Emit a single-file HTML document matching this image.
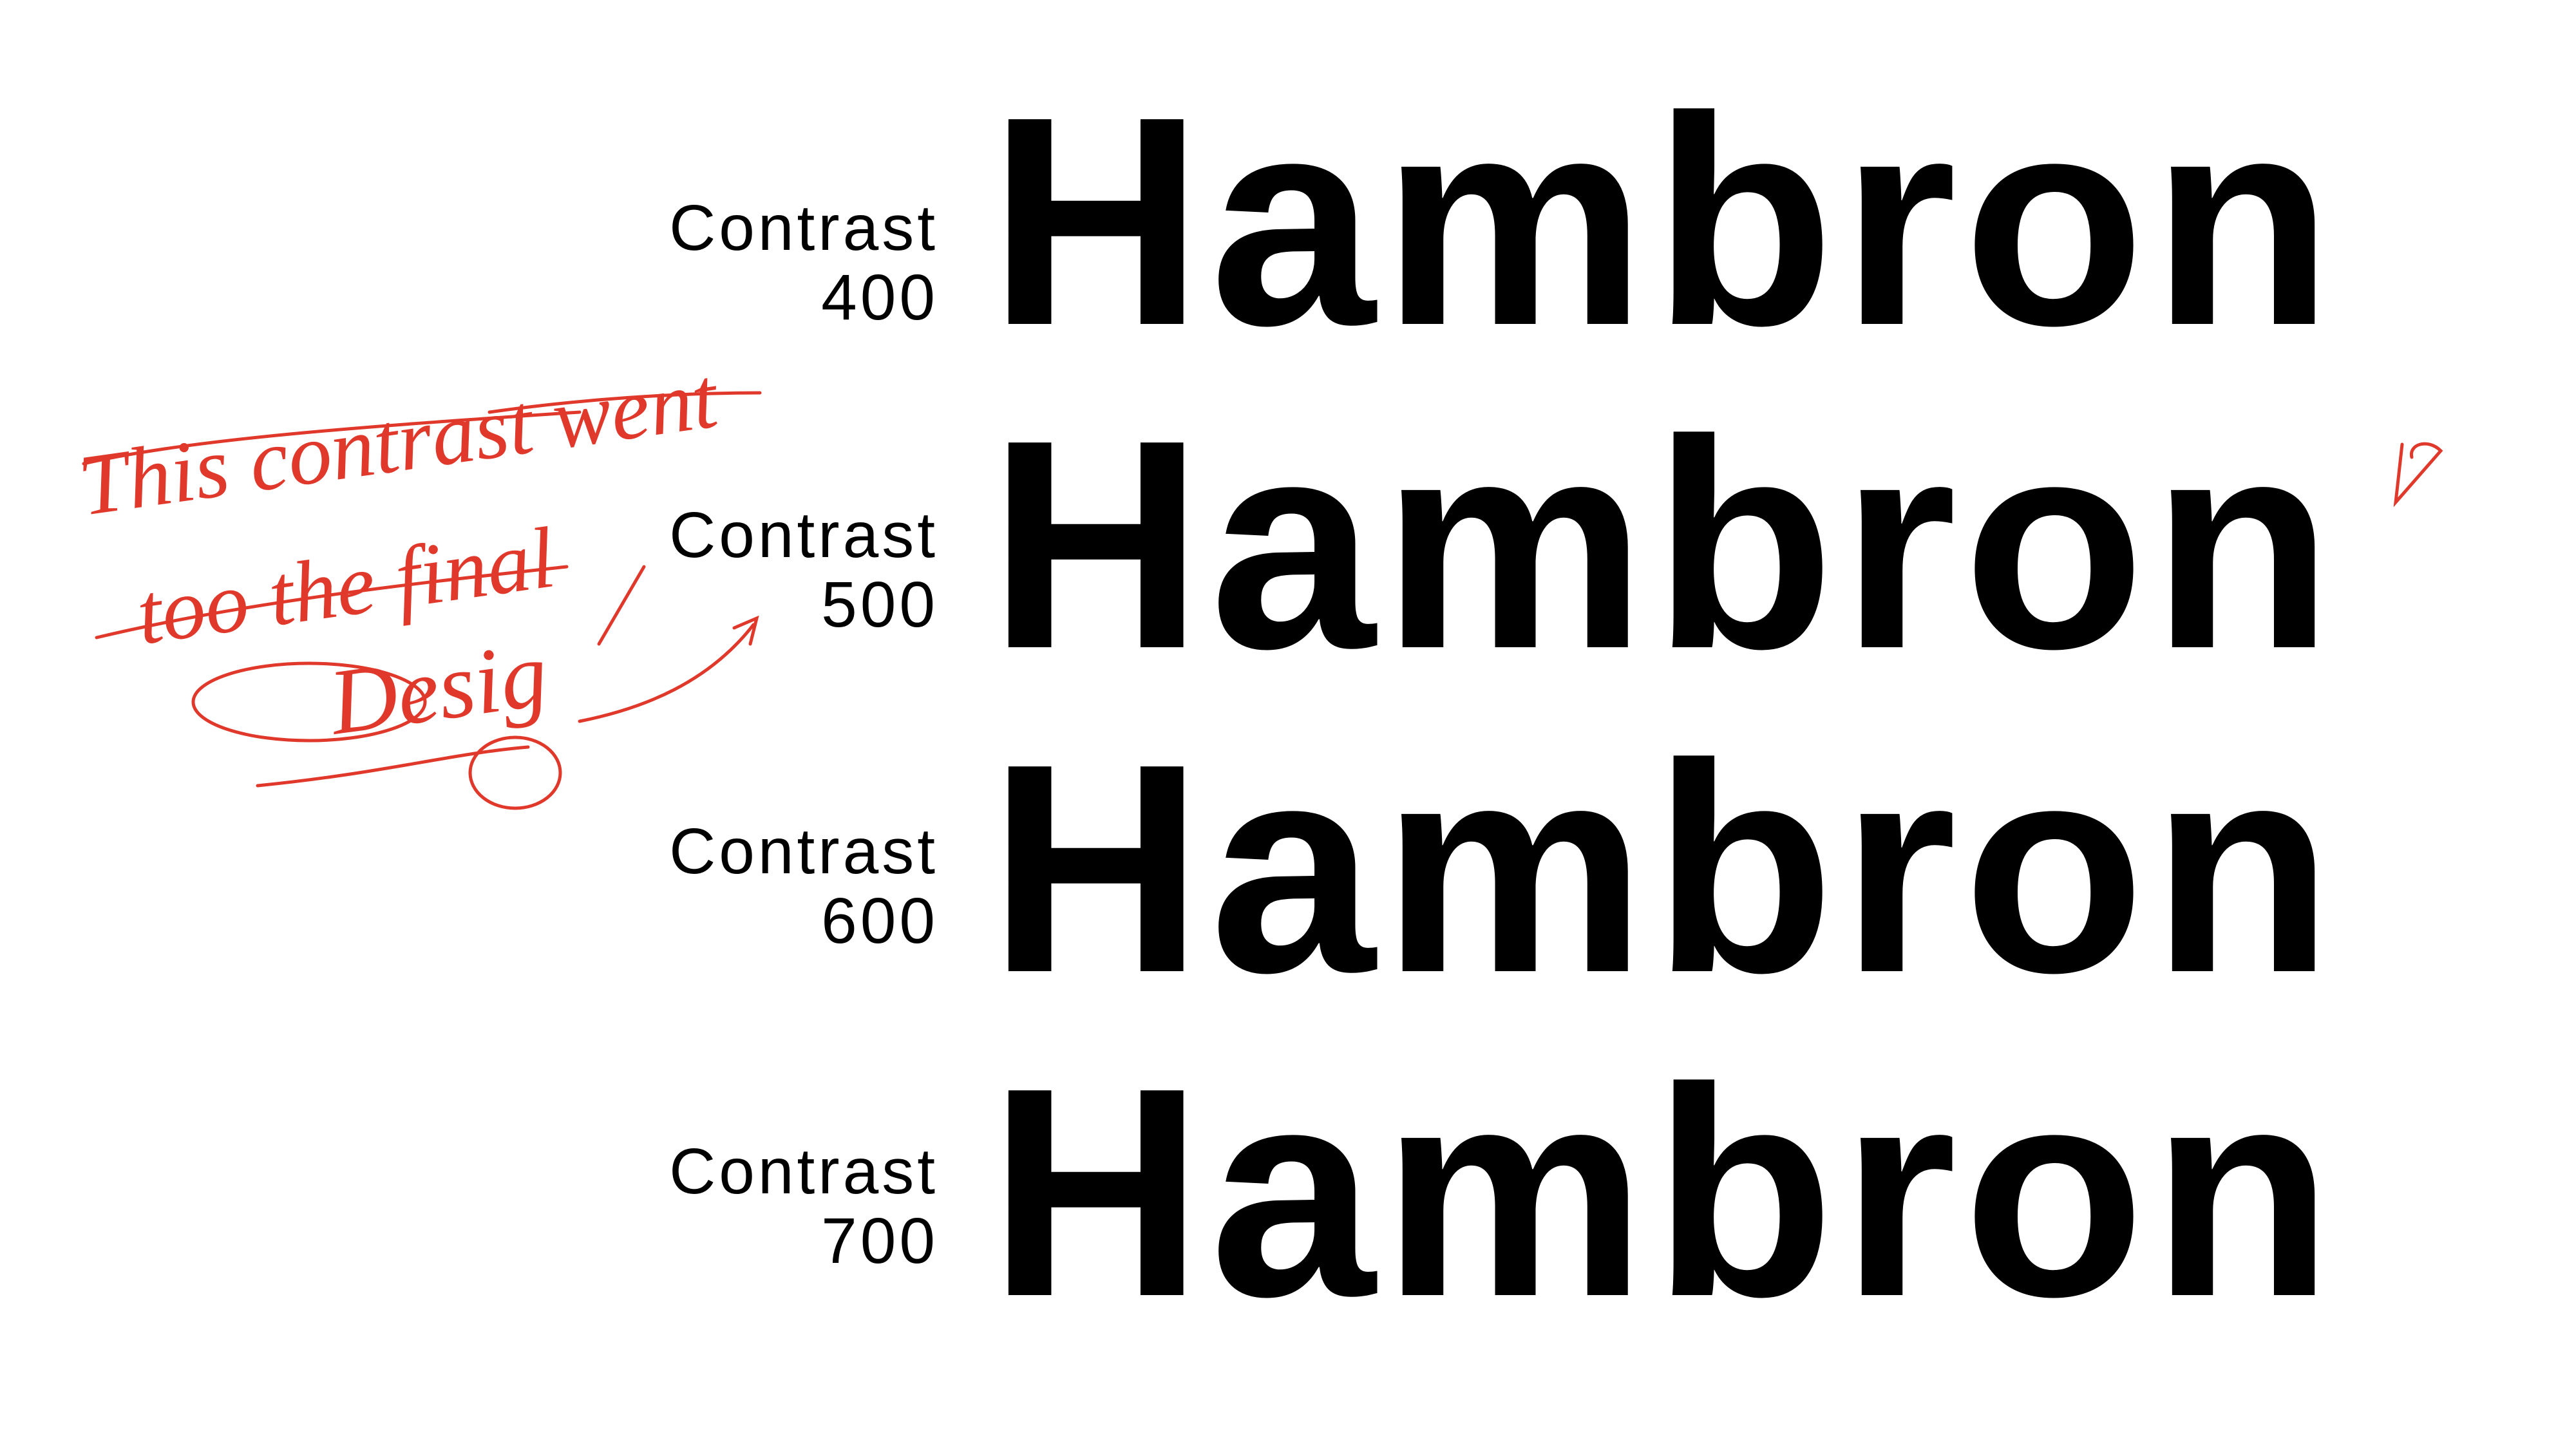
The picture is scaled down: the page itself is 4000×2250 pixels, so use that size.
<!DOCTYPE html>
<html>
<head>
<meta charset="utf-8">
<style>
html,body{margin:0;padding:0;background:#fff;}
#page{position:relative;width:4000px;height:2250px;background:#fff;overflow:hidden;font-family:"Liberation Sans",sans-serif;color:#000;}
.label{position:absolute;right:2543px;text-align:right;font-size:100px;line-height:108px;letter-spacing:5px;}
.word{position:absolute;left:1535px;font-size:462px;font-weight:bold;letter-spacing:10px;line-height:1;}
#note{position:absolute;left:0;top:0;}
</style>
</head>
<body>
<div id="page">
  <div class="label" style="top:300px">Contrast<br>400</div>
  <div class="word" style="top:112px">Hambron</div>

  <div class="label" style="top:777px">Contrast<br>500</div>
  <div class="word" style="top:614px">Hambron</div>

  <div class="label" style="top:1268px">Contrast<br>600</div>
  <div class="word" style="top:1117px">Hambron</div>

  <div class="label" style="top:1765px">Contrast<br>700</div>
  <div class="word" style="top:1620px">Hambron</div>

  <svg id="note" width="4000" height="2250">
    <g fill="none" stroke="#e0392b" stroke-width="5" stroke-linecap="round">
      <path d="M130 720 C300 680 600 660 900 640"/>
      <path d="M760 640 C900 620 1050 610 1180 610"/>
      <path d="M150 990 C400 930 700 900 880 880"/>
      <ellipse cx="480" cy="1090" rx="180" ry="60"/>
      <path d="M400 1220 C600 1200 700 1170 820 1160"/>
      <ellipse cx="800" cy="1200" rx="70" ry="55"/>
      <path d="M900 1120 C1000 1100 1100 1060 1170 970"/>
      <path d="M1140 975 L1175 960 L1165 1000"/>
      <path d="M1000 880 L930 1000"/>
      <path d="M3730 690 L3720 780 L3790 700 C3770 680 3740 690 3745 710"/>
    </g>
    <g fill="#e0392b" font-family="'Liberation Serif',serif" font-style="italic">
      <text x="130" y="800" font-size="135" transform="rotate(-8 130 800)">This contrast went</text>
      <text x="220" y="1000" font-size="135" transform="rotate(-8 220 1000)">too the final</text>
      <text x="520" y="1140" font-size="145" transform="rotate(-8 520 1140)">Desig</text>
    </g>
  </svg>
</div>
</body>
</html>
